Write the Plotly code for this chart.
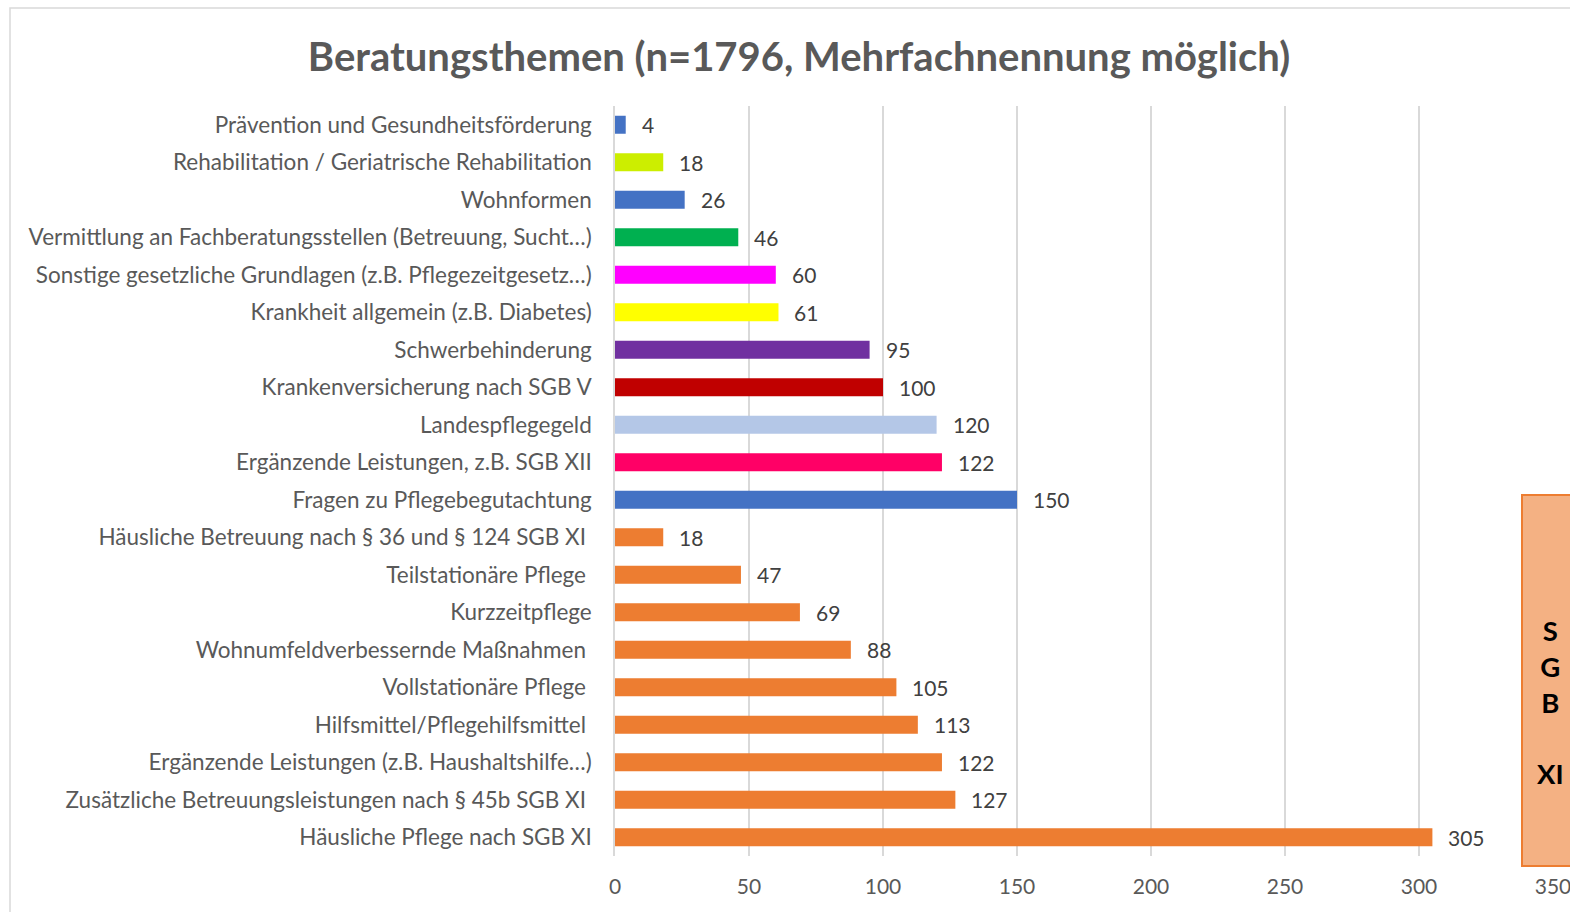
import plotly.graph_objects as go

# Themen von oben nach unten
themen = [
    "Prävention und Gesundheitsförderung",
    "Rehabilitation / Geriatrische Rehabilitation",
    "Wohnformen",
    "Vermittlung an Fachberatungsstellen (Betreuung, Sucht…)",
    "Sonstige gesetzliche Grundlagen (z.B. Pflegezeitgesetz…)",
    "Krankheit allgemein (z.B. Diabetes)",
    "Schwerbehinderung",
    "Krankenversicherung nach SGB V",
    "Landespflegegeld",
    "Ergänzende Leistungen, z.B. SGB XII",
    "Fragen zu Pflegebegutachtung",
    "Häusliche Betreuung nach § 36 und § 124 SGB XI",
    "Teilstationäre Pflege",
    "Kurzzeitpflege",
    "Wohnumfeldverbessernde Maßnahmen",
    "Vollstationäre Pflege",
    "Hilfsmittel/Pflegehilfsmittel",
    "Ergänzende Leistungen (z.B. Haushaltshilfe…)",
    "Zusätzliche Betreuungsleistungen nach § 45b SGB XI",
    "Häusliche Pflege nach SGB XI",
]
anzahl = [4, 18, 26, 46, 60, 61, 95, 100, 120, 122, 150,
          18, 47, 69, 88, 105, 113, 122, 127, 305]
# Beschriftungen, die im Original mit Leerzeichen enden
leerzeichen = [False] * 11 + [True, True, False, True, True, True, False, True, False]
farben = ["#4472C4", "#CCEE00", "#4472C4", "#00B050", "#FF00FF", "#FFFF00",
          "#7030A0", "#C00000", "#B4C7E7", "#FF0066", "#4472C4"] + ["#ED7D31"] * 9

ticks = [0, 50, 100, 150, 200, 250, 300, 350]

FONT = "Lato"
W, H = 1570, 912
L, R, T, B = 615, W - 1553, 106, H - 856
pw, ph = W - L - R, H - T - B

def px_x(p):
    return (p - L) / pw

def px_y(p):
    return (H - B - p) / ph

beschriftung = [t + ("\u00a0" if s else "") for t, s in zip(themen, leerzeichen)]

fig = go.Figure()
fig.add_trace(go.Bar(
    x=anzahl, y=themen, orientation="h",
    marker=dict(color=farben, line=dict(width=0)),
    hoverinfo="x+y",
))

for t, n in zip(themen, anzahl):
    fig.add_annotation(x=n, y=t, text=str(n), showarrow=False,
                       xanchor="left", xshift=14, yshift=0,
                       font=dict(family=FONT, size=21, color="#404040"))

# Rahmen des Diagramms
fig.add_shape(type="rect", xref="paper", yref="paper",
              x0=px_x(10), x1=px_x(1600), y0=px_y(1000), y1=px_y(8),
              line=dict(color="#D9D9D9", width=1.5), fillcolor="rgba(0,0,0,0)", layer="below")

# SGB XI Kasten
fig.add_shape(type="rect", xref="paper", yref="paper",
              x0=px_x(1522), x1=px_x(1600), y0=px_y(866), y1=px_y(495),
              line=dict(color="#ED7D31", width=2), fillcolor="#F4B183", layer="above")
fig.add_annotation(xref="paper", yref="paper", x=px_x(1550), y=px_y(702),
                   text="<b>S<br>G<br>B<br><br>XI</b>", showarrow=False,
                   align="center", xanchor="center", yanchor="middle",
                   font=dict(family=FONT, size=27.5, color="#000000"))

fig.update_layout(
    width=W, height=H,
    margin=dict(l=L, r=R, t=T, b=B, autoexpand=False),
    paper_bgcolor="white", plot_bgcolor="white",
    bargap=0.52,
    showlegend=False,
    title=dict(text="<b>Beratungsthemen (n=1796, Mehrfachnennung möglich)</b>",
               x=799 / W, xanchor="center", y=1 - 57 / H, yanchor="middle",
               font=dict(family=FONT, size=40, color="#595959")),
    xaxis=dict(range=[0, 350], tickvals=ticks, showgrid=True, gridcolor="#D9D9D9",
               gridwidth=1.5, zeroline=False, showline=False, ticks="",
               ticklabeloverflow="allow",
               tickfont=dict(family=FONT, size=21, color="#595959"), ticklabelstandoff=16),
    yaxis=dict(autorange="reversed", showgrid=False, zeroline=False,
               showline=True, linecolor="#D9D9D9", linewidth=1.5, ticks="",
               tickvals=themen, ticktext=beschriftung,
               tickfont=dict(family=FONT, size=22.5, color="#595959"), ticklabelstandoff=17),
)

# Seite ohne Rand und ohne Scrollbalken, damit das Bild das ganze Fenster füllt
fig.write_html("out.html", config={"displayModeBar": False},
               post_script="document.body.style.margin='0';document.body.style.overflow='hidden';")
